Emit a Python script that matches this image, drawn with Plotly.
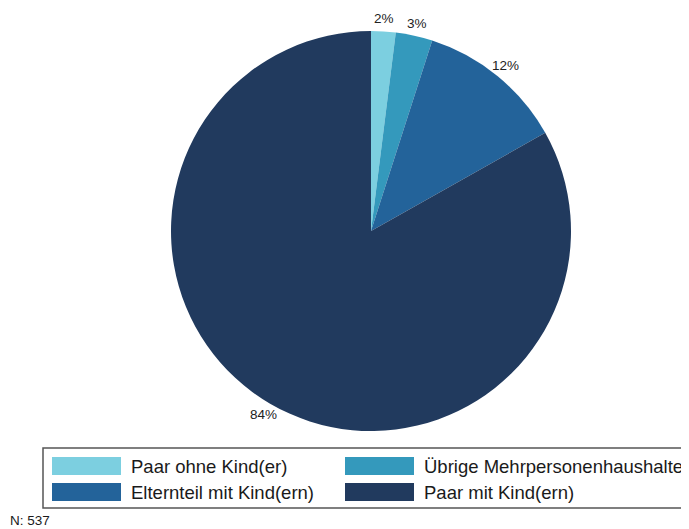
import math
import plotly.graph_objects as go

categories = ["Paar ohne Kind(er)", "Übrige Mehrpersonenhaushalte",
              "Elternteil mit Kind(ern)", "Paar mit Kind(ern)"]
shares = [2, 3, 12, 84]
colors = ["#7ccfe0", "#3499bc", "#23639a", "#213a5e"]
note = "N: 537"

# The page body has an 8px margin, so the figure is drawn 8px in from the corner.
OFF = 8
W, H = 689 - OFF, 529 - OFF
def px(x):
    return (x - OFF) / W
def py(y):
    return 1 - (y - OFF) / H

FONT = "Liberation Sans, Arial, sans-serif"
CX, CY, R = 371, 231, 200

fig = go.Figure()
fig.add_trace(go.Pie(
    labels=categories,
    values=shares,
    sort=False,
    direction="clockwise",
    rotation=0,
    marker=dict(colors=colors, line=dict(width=0)),
    textinfo="none",
    hoverinfo="label+value",
    showlegend=False,
    domain=dict(x=[px(CX - R), px(CX + R)], y=[py(CY + R), py(CY - R)]),
))

annotations = []
# percentage labels just outside each slice, at its mid angle
total = sum(shares)
cum = 0
for v in shares:
    mid = (cum + v / 2) / total * 2 * math.pi
    cum += v
    rr = R + 13
    annotations.append(dict(xref="paper", yref="paper",
                            x=px(CX + rr * math.sin(mid)), y=py(CY - rr * math.cos(mid)),
                            text=f"{v}%", showarrow=False, xanchor="center", yanchor="middle",
                            font=dict(family=FONT, size=13.5, color="#222222")))

shapes = [dict(type="rect", xref="paper", yref="paper",
               x0=px(43), x1=px(720), y0=py(508), y1=py(448),
               line=dict(color="#555555", width=1.5), fillcolor="rgba(0,0,0,0)")]
positions = [(52, 457), (345, 457), (52, 483), (345, 483)]
for (x, y), name, col in zip(positions, categories, colors):
    shapes.append(dict(type="rect", xref="paper", yref="paper",
                       x0=px(x), x1=px(x + 69), y0=py(y + 18), y1=py(y),
                       line=dict(width=0), fillcolor=col))
    annotations.append(dict(xref="paper", yref="paper", x=px(x + 77), y=py(y + 9.5),
                            text=name, showarrow=False, xanchor="left", yanchor="middle",
                            font=dict(family=FONT, size=18.5, color="#1a1a1a")))
annotations.append(dict(xref="paper", yref="paper", x=px(8), y=py(520),
                        text=note, showarrow=False, xanchor="left", yanchor="middle",
                        font=dict(family=FONT, size=13.5, color="#1a1a1a")))

fig.update_layout(
    width=W, height=H,
    margin=dict(l=0, r=0, t=0, b=0),
    paper_bgcolor="white", plot_bgcolor="white",
    shapes=shapes, annotations=annotations,
)
fig.write_html("out.html")
